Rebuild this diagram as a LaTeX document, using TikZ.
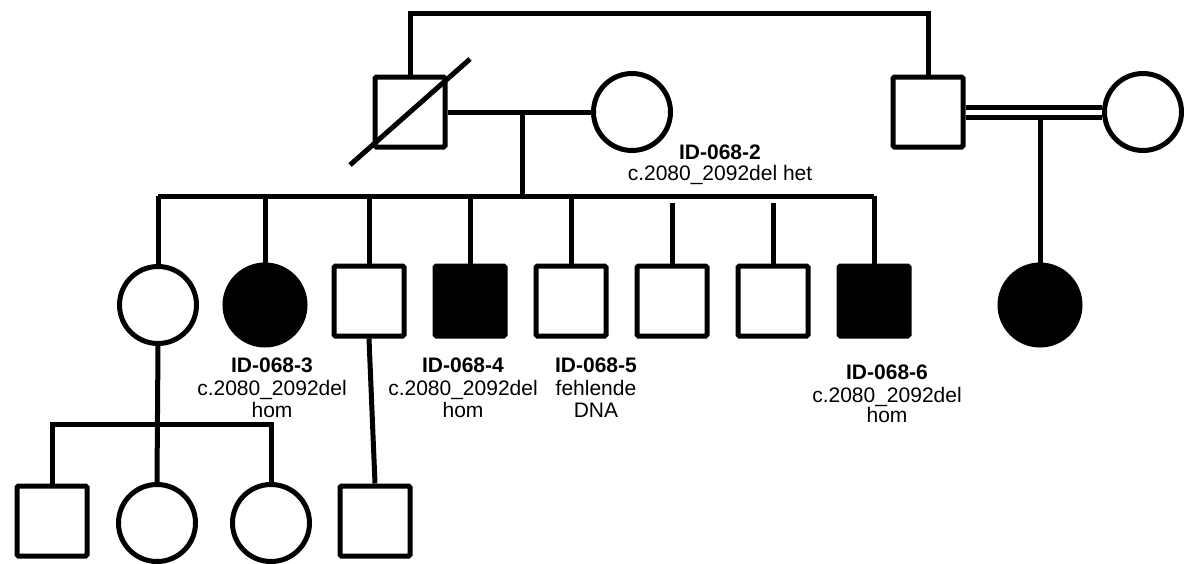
\documentclass[tikz,border=0pt]{standalone}
\usepackage{fontspec}
\setmainfont{Liberation Sans}
\usetikzlibrary{calc}
\begin{document}
\begin{tikzpicture}[x=1pt,y=-1pt,
  line width=5pt, line join=miter,
  male/.style={draw, rectangle, minimum size=70pt, inner sep=0pt, fill=white, rounded corners=1.5pt},
  female/.style={draw, circle, minimum size=77pt, inner sep=0pt, fill=white},
  affm/.style={male, fill=black},
  afff/.style={female, fill=black, minimum size=80pt},
  txt/.style={anchor=base, inner sep=0pt, font=\fontsize{21}{23}\selectfont}]
\useasboundingbox (0,0) rectangle (1187,563);
% generation I
\node[male] (gf) at (410,112) {};
\node[female] (gm) at (632,112) {};
\node[male] (rgf) at (928,112) {};
\node[female] (rgm) at (1143,112) {};
% generation II
\node[female] (c1) at (158,305) {};
\node[afff] (c2) at (265,305) {};
\node[male] (c3) at (369,301) {};
\node[affm] (c4) at (470,301) {};
\node[male] (c5) at (571,301) {};
\node[male] (c6) at (672,301) {};
\node[male] (c7) at (773,301) {};
\node[affm] (c8) at (874,301) {};
\node[afff] (rd) at (1040,305) {};
% generation III
\node[male] (g1) at (52,521) {};
\node[female] (g2) at (157,523) {};
\node[female] (g3) at (271,523) {};
\node[male] (g4) at (375,521) {};
% coordinates
\coordinate (top) at (0,13);
\coordinate (m1) at (522,112);
\coordinate (s1) at (522,196);
\coordinate (s1g) at (0,203);
\coordinate (m2) at (1040,117);
\coordinate (s2) at (0,424);
% connectors
\draw (gf.north) -- (gf.north |- top) -- (rgf.north |- top) -- (rgf.north);
\draw (gf.east) -- (gm.west);
\draw ([shift={(-60,53)}]gf.center) -- ([shift={(60,-53)}]gf.center);
\draw (m1) -- (s1);
\draw (c1.north |- s1) -- (c8.north |- s1);
\draw (c1.north) -- (c1.north |- s1);
\draw (c2.north) -- (c2.north |- s1);
\draw (c3.north) -- (c3.north |- s1);
\draw (c4.north) -- (c4.north |- s1);
\draw (c5.north) -- (c5.north |- s1);
\draw (c6.north) -- (c6.north |- s1g);
\draw (c7.north) -- (c7.north |- s1g);
\draw (c8.north) -- (c8.north |- s1);
\draw ([yshift=5pt]rgf.east) -- ([yshift=5pt]rgm.west);
\draw ([yshift=-5pt]rgf.east) -- ([yshift=-5pt]rgm.west);
\draw (m2) -- (rd.north);
\draw (c1.south) -- (g2.north);
\draw (g1.north) -- (g1.north |- s2) -- (g3.north |- s2) -- (g3.north);
\draw (c3.south) -- (g4.north);
% labels
\node[txt] (t2a) at (720,159.5) {\textbf{ID-068-2}};
\node[txt] (t2b) at (720,180.5) {c.2080\_2092del het};
\node[txt] (t3a) at (272,372) {\textbf{ID-068-3}};
\node[txt] (t3b) at (272,395.5) {c.2080\_2092del};
\node[txt] (t3c) at (272,417) {hom};
\node[txt] (t4a) at (463,372) {\textbf{ID-068-4}};
\node[txt] (t4b) at (463,395.5) {c.2080\_2092del};
\node[txt] (t4c) at (463,417) {hom};
\node[txt] (t5a) at (596,372) {\textbf{ID-068-5}};
\node[txt] (t5b) at (596,395.5) {fehlende};
\node[txt] (t5c) at (596,417) {DNA};
\node[txt] (t6a) at (887,379) {\textbf{ID-068-6}};
\node[txt] (t6b) at (887,402) {c.2080\_2092del};
\node[txt] (t6c) at (887,422) {hom};
\end{tikzpicture}
\end{document}
